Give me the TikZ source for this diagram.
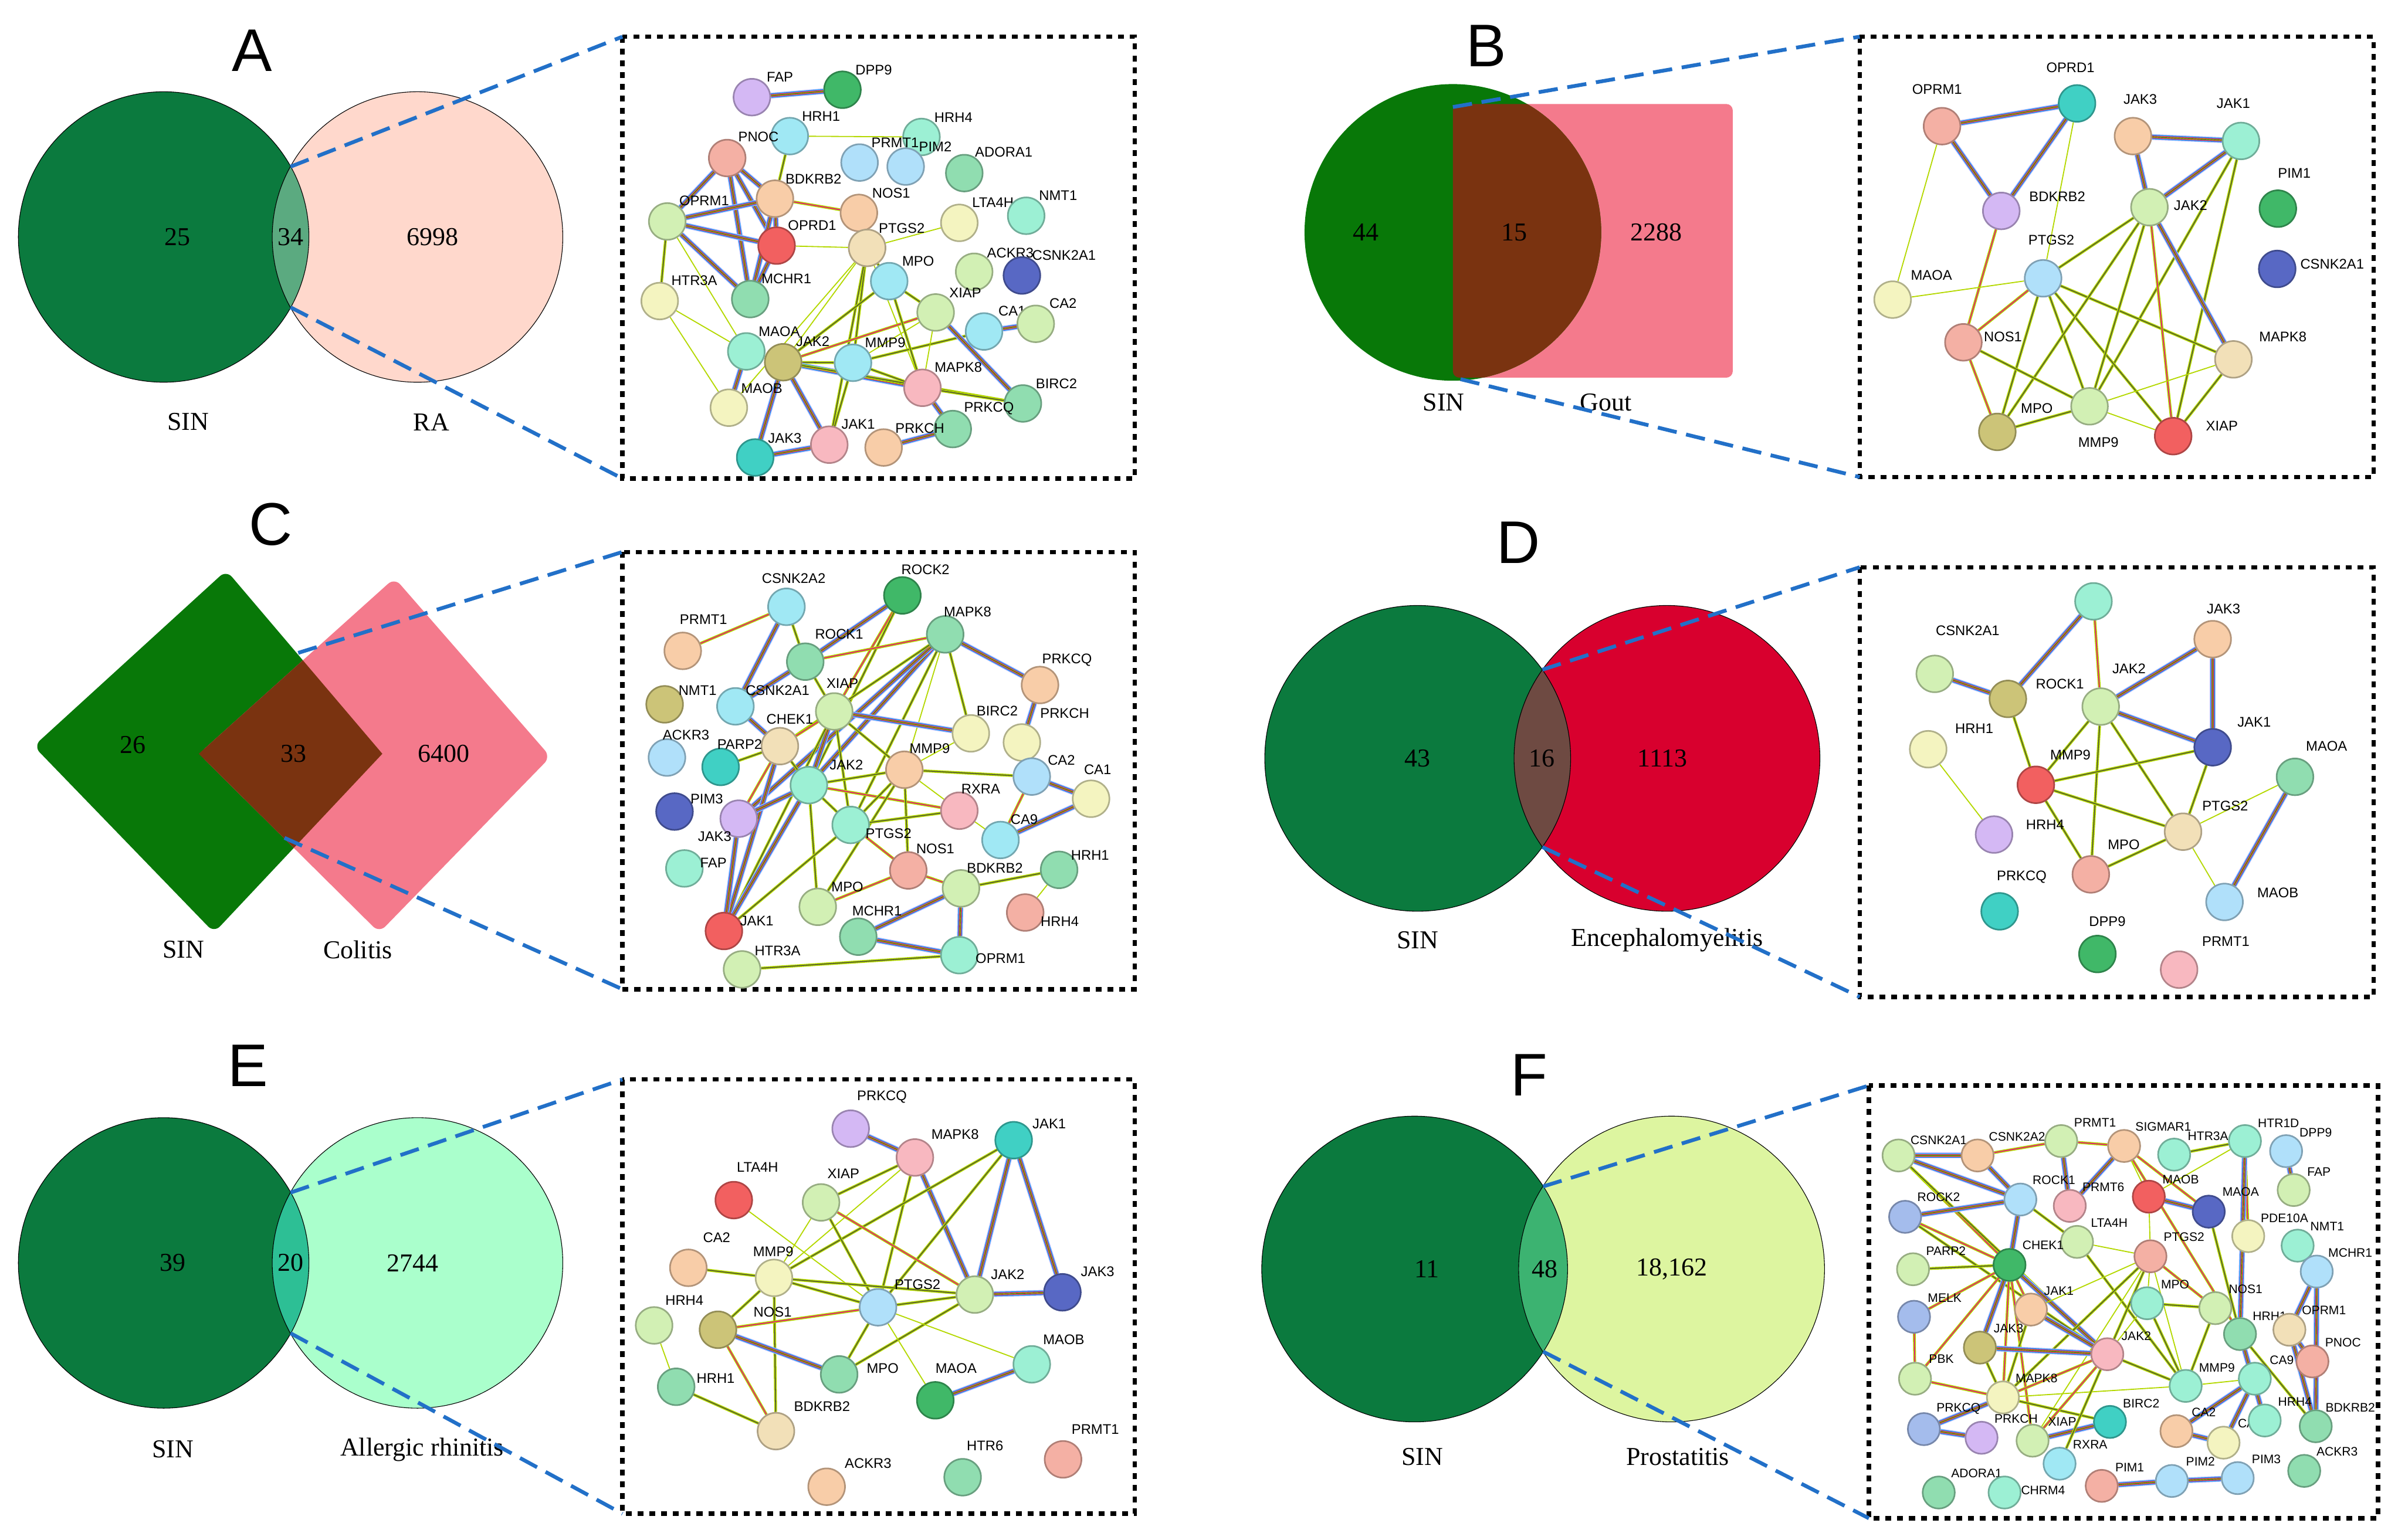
\documentclass[tikz,border=0pt]{standalone}
\usepackage{fontspec}
\setmainfont{Liberation Serif}
\newfontfamily\sfs{Liberation Sans}
\pgfdeclarelayer{bg}\pgfsetlayers{bg,main}
\definecolor{lg}{HTML}{B4D800}
\definecolor{dashblue}{HTML}{2270C8}
\definecolor{sal}{HTML}{F4B0A4}\definecolor{pch}{HTML}{F8CDA8}\definecolor{wht}{HTML}{F2E0B8}
\definecolor{pyl}{HTML}{F4F4C0}\definecolor{pgr}{HTML}{D2F0B4}\definecolor{grn}{HTML}{90DDB0}
\definecolor{dgr}{HTML}{40B868}\definecolor{mnt}{HTML}{9CF0D4}\definecolor{tel}{HTML}{40D0C4}
\definecolor{cyn}{HTML}{A0E8F4}\definecolor{lbl}{HTML}{B0E0FA}\definecolor{blu}{HTML}{A4BCEC}
\definecolor{dbl}{HTML}{5868C4}\definecolor{lav}{HTML}{D4B8F4}\definecolor{rd}{HTML}{F26060}
\definecolor{pnk}{HTML}{F8B8C0}\definecolor{olv}{HTML}{CCC478}
\definecolor{Agreen}{HTML}{0B7A3E}\definecolor{Apink}{HTML}{FFD8CC}\definecolor{Aint}{HTML}{5BAA80}
\definecolor{Bgreen}{HTML}{087808}\definecolor{Bpink}{HTML}{F47A8C}\definecolor{Bint}{HTML}{7A3310}
\definecolor{Dred}{HTML}{D8002E}\definecolor{Dint}{HTML}{6E4A42}
\definecolor{Emint}{HTML}{AAFFCC}\definecolor{Eint}{HTML}{2DBF95}
\definecolor{Fy}{HTML}{DDF5A0}\definecolor{Fint}{HTML}{3CB371}
\tikzset{
 pnode/.style={circle,minimum size=1.2cm,inner sep=0pt,line width=1.5pt},
 plab/.style={font=\sfs\fontsize{13}{15}\selectfont,inner sep=0pt},
 e/.style={draw=lg,line width=1pt},
 k/.style={preaction={draw=lg,line width=2.6pt},draw=black!75,line width=0.7pt},
 m/.style={preaction={draw=lg,line width=2.6pt},draw=magenta,line width=0.8pt},
 mb/.style={preaction={draw=blue!30,line width=5.4pt},preaction={draw=cyan,line width=4pt},
   preaction={draw=magenta,line width=2.7pt},preaction={draw=lg,line width=1.5pt},draw=black!80,line width=0.5pt},
 dbox/.style={draw=black,line width=4pt,dash pattern=on 5.5pt off 5.5pt},
 bcon/.style={draw=dashblue,line width=3.5pt,dash pattern=on 18pt off 9pt},
 vn/.style={font=\fontsize{24}{28}\selectfont,inner sep=0pt},
 pl/.style={font=\sfs\fontsize{56}{60}\selectfont,inner sep=0pt},
 vo/.style={draw=black,line width=0.6pt}
}
\newcommand\pn[7]{\node[pnode,fill=#4,draw=#4!72!black] (#1) at (#2,#3) {};\node[plab] (#1-l) at (#5,#6) {#7};}
\newcommand\ed[3]{\draw[#1] (#2) -- (#3);}
\begin{document}
\begin{tikzpicture}[x=0.05cm,y=-0.05cm]
\useasboundingbox (0,0) rectangle (1568,1007);
% ================= A =================
\node[pl] (LA) at (165,33) {A};
\fill[Agreen] (107,155) circle (95);
\fill[Apink] (273,155) circle (95);
\begin{scope}\clip (107,155) circle (95); \fill[Aint] (273,155) circle (95);\end{scope}
\draw[vo] (107,155) circle (95) (273,155) circle (95);
\node[vn] (a25) at (116,155) {25};\node[vn] (a34) at (190,155) {34};\node[vn] (a6998) at (283,155) {6998};
\node[vn] (aS) at (123,276) {SIN};\node[vn] (aR) at (282,276) {RA};
\coordinate (aT) at (190,109);\coordinate (aB) at (190,201);
\coordinate (aTL) at (407,24);\coordinate (aBR) at (742,313);\coordinate (aBL) at (407,313);
\draw[dbox] (aTL) rectangle (aBR);
\draw[bcon] (aT) -- (aTL);\draw[bcon] (aB) -- (aBL);
\begin{scope}[shift={(406.6,23)},xscale=0.2153,yscale=0.186]
\pn{aFAP}{395}{218}{lav}{480}{148}{FAP}
\pn{aDPP9}{670}{192}{dgr}{765}{122}{DPP9}
\pn{aHRH1}{510}{355}{cyn}{605}{285}{HRH1}
\pn{aHRH4}{910}{358}{mnt}{1007}{290}{HRH4}
\pn{aPNOC}{320}{432}{sal}{415}{358}{PNOC}
\pn{aPRMT1}{722}{448}{lbl}{830}{378}{PRMT1}
\pn{aPIM2}{862}{462}{lbl}{952}{392}{PIM2}
\pn{aADORA1}{1040}{485}{grn}{1160}{412}{ADORA1}
\pn{aBDKRB2}{465}{575}{pch}{582}{505}{BDKRB2}
\pn{aNOS1}{720}{625}{pch}{818}{555}{NOS1}
\pn{aLTA4H}{1025}{660}{pyl}{1127}{588}{LTA4H}
\pn{aNMT1}{1228}{635}{mnt}{1325}{563}{NMT1}
\pn{aOPRM1}{138}{655}{pgr}{250}{582}{OPRM1}
\pn{aOPRD1}{470}{740}{rd}{578}{668}{OPRD1}
\pn{aPTGS2}{745}{748}{wht}{850}{680}{PTGS2}
\pn{aMPO}{812}{865}{cyn}{900}{795}{MPO}
\pn{aACKR3}{1070}{832}{pgr}{1180}{765}{ACKR3}
\pn{aCSNK2A1}{1215}{845}{dbl}{1343}{773}{CSNK2A1}
\pn{aHTR3A}{115}{935}{pyl}{220}{862}{HTR3A}
\pn{aMCHR1}{390}{928}{grn}{500}{857}{MCHR1}
\pn{aXIAP}{953}{975}{pgr}{1043}{905}{XIAP}
\pn{aCA1}{1100}{1042}{cyn}{1185}{970}{CA1}
\pn{aCA2}{1257}{1015}{pgr}{1340}{943}{CA2}
\pn{aMAOA}{378}{1112}{mnt}{478}{1043}{MAOA}
\pn{aJAK2}{490}{1150}{olv}{580}{1078}{JAK2}
\pn{aMMP9}{702}{1152}{cyn}{800}{1082}{MMP9}
\pn{aMAPK8}{913}{1240}{pnk}{1022}{1168}{MAPK8}
\pn{aBIRC2}{1218}{1295}{grn}{1320}{1225}{BIRC2}
\pn{aMAOB}{325}{1310}{pyl}{425}{1243}{MAOB}
\pn{aPRKCQ}{1005}{1385}{grn}{1115}{1312}{PRKCQ}
\pn{aJAK1}{630}{1440}{pnk}{718}{1368}{JAK1}
\pn{aPRKCH}{795}{1450}{pch}{905}{1383}{PRKCH}
\pn{aJAK3}{405}{1485}{tel}{495}{1418}{JAK3}
\begin{pgfonlayer}{bg}
\ed{mb}{aFAP}{aDPP9}\ed{e}{aHRH1}{aHRH4}\ed{k}{aHRH1}{aBDKRB2}
\ed{mb}{aPNOC}{aBDKRB2}\ed{mb}{aPNOC}{aOPRM1}\ed{mb}{aPNOC}{aOPRD1}\ed{mb}{aPNOC}{aMCHR1}
\ed{mb}{aOPRM1}{aBDKRB2}\ed{mb}{aOPRM1}{aOPRD1}\ed{mb}{aOPRM1}{aMCHR1}\ed{k}{aOPRM1}{aHTR3A}\ed{e}{aOPRM1}{aMAOA}
\ed{mb}{aBDKRB2}{aOPRD1}\ed{mb}{aBDKRB2}{aMCHR1}\ed{m}{aBDKRB2}{aNOS1}\ed{mb}{aOPRD1}{aMCHR1}
\ed{e}{aOPRD1}{aPTGS2}\ed{e}{aPTGS2}{aLTA4H}\ed{k}{aPTGS2}{aMPO}\ed{k}{aPTGS2}{aMMP9}\ed{e}{aPTGS2}{aJAK2}
\ed{k}{aPTGS2}{aJAK1}\ed{e}{aPTGS2}{aMAOB}\ed{e}{aPTGS2}{aMAPK8}\ed{e}{aHTR3A}{aMAOA}\ed{e}{aHTR3A}{aMAOB}
\ed{mb}{aMAOA}{aMAOB}\ed{k}{aJAK2}{aMMP9}\ed{mb}{aJAK2}{aMAPK8}\ed{m}{aJAK2}{aXIAP}\ed{mb}{aJAK2}{aJAK1}
\ed{mb}{aJAK2}{aJAK3}\ed{k}{aJAK2}{aBIRC2}\ed{k}{aJAK2}{aMPO}\ed{k}{aMMP9}{aJAK1}\ed{k}{aMMP9}{aMAPK8}
\ed{k}{aMMP9}{aCA1}\ed{e}{aMMP9}{aXIAP}\ed{k}{aMPO}{aXIAP}\ed{k}{aMPO}{aMAPK8}\ed{e}{aXIAP}{aMAPK8}
\ed{mb}{aXIAP}{aBIRC2}\ed{mb}{aCA1}{aCA2}\ed{k}{aMAPK8}{aBIRC2}\ed{mb}{aMAPK8}{aPRKCQ}\ed{mb}{aPRKCQ}{aPRKCH}\ed{mb}{aJAK1}{aJAK3}
\end{pgfonlayer}
\end{scope}
% ================= B =================
\node[pl] (LB) at (972,30) {B};
\fill[Bpink,rounded corners=6] (950,68) rectangle (1133,247);
\fill[Bgreen] (950,152) circle (97);
\begin{scope}\clip[rounded corners=6] (950,68) rectangle (1133,247);\fill[Bint] (950,152) circle (97);\end{scope}
\node[vn] (b44) at (893,152) {44};\node[vn] (b15) at (990,152) {15};\node[vn] (b2288) at (1083,152) {2288};
\node[vn] (bS) at (944,263) {SIN};\node[vn] (bG) at (1050,263) {Gout};
\coordinate (bT) at (950,70);\coordinate (bB) at (955,248);
\coordinate (bTL) at (1216,24);\coordinate (bBR) at (1552,312);\coordinate (bBL) at (1216,312);
\draw[dbox] (bTL) rectangle (bBR);
\draw[bcon] (bT) -- (bTL);\draw[bcon] (bB) -- (bBL);
\begin{scope}[shift={(1216,23)},xscale=0.2153,yscale=0.186]
\pn{bOPRM1}{250}{320}{sal}{235}{190}{OPRM1}
\pn{bOPRD1}{660}{240}{tel}{640}{115}{OPRD1}
\pn{bJAK3}{830}{355}{pch}{852}{225}{JAK3}
\pn{bJAK1}{1158}{372}{mnt}{1135}{240}{JAK1}
\pn{bPIM1}{1270}{610}{dgr}{1320}{485}{PIM1}
\pn{bBDKRB2}{430}{618}{lav}{600}{568}{BDKRB2}
\pn{bJAK2}{880}{605}{pgr}{1005}{598}{JAK2}
\pn{bCSNK2A1}{1268}{822}{dbl}{1435}{805}{CSNK2A1}
\pn{bPTGS2}{557}{855}{lbl}{582}{720}{PTGS2}
\pn{bMAOA}{100}{930}{pyl}{218}{845}{MAOA}
\pn{bNOS1}{315}{1080}{sal}{435}{1060}{NOS1}
\pn{bMAPK8}{1135}{1140}{wht}{1285}{1060}{MAPK8}
\pn{bMPO}{418}{1395}{olv}{538}{1312}{MPO}
\pn{bMMP9}{698}{1305}{pgr}{725}{1432}{MMP9}
\pn{bXIAP}{952}{1410}{rd}{1100}{1375}{XIAP}
\begin{pgfonlayer}{bg}
\ed{mb}{bOPRM1}{bOPRD1}\ed{mb}{bOPRM1}{bBDKRB2}\ed{e}{bOPRM1}{bMAOA}\ed{mb}{bOPRD1}{bBDKRB2}\ed{e}{bOPRD1}{bPTGS2}
\ed{mb}{bJAK3}{bJAK1}\ed{mb}{bJAK3}{bJAK2}\ed{mb}{bJAK1}{bJAK2}\ed{k}{bJAK1}{bMMP9}\ed{k}{bJAK1}{bXIAP}
\ed{m}{bBDKRB2}{bNOS1}\ed{k}{bPTGS2}{bJAK2}\ed{e}{bPTGS2}{bMAOA}\ed{m}{bPTGS2}{bNOS1}\ed{k}{bPTGS2}{bMPO}
\ed{k}{bPTGS2}{bMMP9}\ed{k}{bPTGS2}{bXIAP}\ed{k}{bPTGS2}{bMAPK8}\ed{k}{bJAK2}{bMPO}\ed{k}{bJAK2}{bMMP9}
\ed{m}{bJAK2}{bXIAP}\ed{mb}{bJAK2}{bMAPK8}\ed{m}{bNOS1}{bMPO}\ed{k}{bNOS1}{bMMP9}\ed{k}{bMPO}{bMMP9}
\ed{e}{bMMP9}{bXIAP}\ed{e}{bMMP9}{bMAPK8}\ed{k}{bMAPK8}{bXIAP}
\end{pgfonlayer}
\end{scope}
% ================= C =================
\node[pl] (LC) at (177,343) {C};
\fill[Bgreen,rounded corners=8] (148,373) -- (250,493) -- (140,610) -- (22,488) -- cycle;
\fill[Bpink,rounded corners=8] (258,378) -- (360,495) -- (248,610) -- (130,493) -- cycle;
\begin{scope}\clip (148,373) -- (250,493) -- (140,610) -- (22,488) -- cycle;
\fill[Bint] (258,378) -- (360,495) -- (248,610) -- (130,493) -- cycle;\end{scope}
\node[vn] (c26) at (87,487) {26};\node[vn] (c33) at (192,493) {33};\node[vn] (c6400) at (290,493) {6400};
\node[vn] (cS) at (120,621) {SIN};\node[vn] (cC) at (234,621) {Colitis};
\coordinate (cT) at (195,427);\coordinate (cB) at (186,548);
\coordinate (cTL) at (407,361);\coordinate (cBR) at (742,647);\coordinate (cBL) at (407,647);
\draw[dbox] (cTL) rectangle (cBR);
\draw[bcon] (cT) -- (cTL);\draw[bcon] (cB) -- (cBL);
\begin{scope}[shift={(406.6,360.6)},xscale=0.2153,yscale=0.186]
\pn{cCSNK2A2}{500}{195}{cyn}{522}{95}{CSNK2A2}
\pn{cROCK2}{852}{155}{dgr}{922}{65}{ROCK2}
\pn{cPRMT1}{185}{350}{pch}{248}{240}{PRMT1}
\pn{cMAPK8}{982}{292}{grn}{1050}{212}{MAPK8}
\pn{cROCK1}{557}{388}{grn}{660}{292}{ROCK1}
\pn{cNMT1}{130}{538}{olv}{230}{490}{NMT1}
\pn{cCSNK2A1}{345}{545}{cyn}{473}{490}{CSNK2A1}
\pn{cXIAP}{645}{563}{pgr}{670}{465}{XIAP}
\pn{cPRKCQ}{1270}{470}{pch}{1352}{382}{PRKCQ}
\pn{cCHEK1}{480}{685}{wht}{510}{590}{CHEK1}
\pn{cBIRC2}{1060}{640}{pyl}{1140}{562}{BIRC2}
\pn{cPRKCH}{1215}{672}{pyl}{1345}{570}{PRKCH}
\pn{cACKR3}{137}{725}{lbl}{195}{646}{ACKR3}
\pn{cPARP2}{300}{758}{tel}{358}{678}{PARP2}
\pn{cMMP9}{858}{768}{pch}{935}{693}{MMP9}
\pn{cJAK2}{568}{822}{mnt}{682}{750}{JAK2}
\pn{cCA2}{1245}{792}{lbl}{1335}{735}{CA2}
\pn{cCA1}{1425}{870}{pyl}{1445}{768}{CA1}
\pn{cPIM3}{160}{915}{dbl}{258}{870}{PIM3}
\pn{cJAK3}{355}{940}{lav}{282}{1003}{JAK3}
\pn{cRXRA}{1025}{912}{pnk}{1090}{836}{RXRA}
\pn{cPTGS2}{695}{962}{mnt}{810}{993}{PTGS2}
\pn{cCA9}{1150}{1015}{cyn}{1222}{943}{CA9}
\pn{cFAP}{190}{1115}{mnt}{278}{1095}{FAP}
\pn{cNOS1}{870}{1122}{sal}{952}{1045}{NOS1}
\pn{cHRH1}{1328}{1120}{grn}{1422}{1068}{HRH1}
\pn{cBDKRB2}{1030}{1185}{pgr}{1133}{1113}{BDKRB2}
\pn{cMPO}{595}{1250}{pgr}{685}{1180}{MPO}
\pn{cJAK1}{310}{1335}{rd}{410}{1300}{JAK1}
\pn{cMCHR1}{718}{1355}{grn}{775}{1265}{MCHR1}
\pn{cHRH4}{1225}{1270}{sal}{1330}{1302}{HRH4}
\pn{cOPRM1}{1025}{1420}{mnt}{1150}{1432}{OPRM1}
\pn{cHTR3A}{365}{1470}{pgr}{473}{1405}{HTR3A}
\begin{pgfonlayer}{bg}
\ed{m}{cPRMT1}{cCSNK2A2}\ed{k}{cCSNK2A2}{cROCK1}\ed{mb}{cCSNK2A2}{cCSNK2A1}\ed{mb}{cROCK2}{cROCK1}
\ed{m}{cROCK2}{cXIAP}\ed{k}{cROCK2}{cJAK2}\ed{m}{cROCK1}{cMAPK8}\ed{mb}{cROCK1}{cCSNK2A1}\ed{k}{cROCK1}{cXIAP}
\ed{mb}{cCSNK2A1}{cCHEK1}\ed{mb}{cMAPK8}{cPRKCQ}\ed{k}{cMAPK8}{cBIRC2}\ed{mb}{cMAPK8}{cJAK2}\ed{k}{cMAPK8}{cPTGS2}
\ed{e}{cMAPK8}{cMMP9}\ed{mb}{cMAPK8}{cJAK3}\ed{k}{cMAPK8}{cCHEK1}\ed{mb}{cXIAP}{cBIRC2}\ed{m}{cXIAP}{cCHEK1}
\ed{mb}{cXIAP}{cJAK2}\ed{k}{cXIAP}{cPTGS2}\ed{k}{cXIAP}{cMMP9}\ed{k}{cXIAP}{cJAK1}\ed{mb}{cPRKCQ}{cPRKCH}
\ed{k}{cCHEK1}{cPARP2}\ed{mb}{cCHEK1}{cJAK1}\ed{k}{cCHEK1}{cJAK2}\ed{m}{cCHEK1}{cJAK3}\ed{mb}{cJAK2}{cJAK3}
\ed{mb}{cJAK2}{cJAK1}\ed{k}{cJAK2}{cMMP9}\ed{m}{cJAK2}{cRXRA}\ed{k}{cJAK2}{cPTGS2}\ed{k}{cJAK2}{cMPO}
\ed{k}{cMMP9}{cCA2}\ed{e}{cMMP9}{cRXRA}\ed{k}{cMMP9}{cNOS1}\ed{k}{cMMP9}{cPTGS2}\ed{e}{cMMP9}{cBIRC2}\ed{k}{cMMP9}{cMPO}
\ed{k}{cPTGS2}{cRXRA}\ed{m}{cPTGS2}{cNOS1}\ed{k}{cPTGS2}{cJAK1}\ed{e}{cRXRA}{cCA9}\ed{mb}{cCA2}{cCA1}\ed{m}{cCA2}{cCA9}
\ed{mb}{cCA9}{cCA1}\ed{m}{cNOS1}{cMPO}\ed{m}{cNOS1}{cBDKRB2}\ed{k}{cBDKRB2}{cHRH1}\ed{mb}{cBDKRB2}{cMCHR1}
\ed{mb}{cBDKRB2}{cOPRM1}\ed{e}{cHRH1}{cHRH4}\ed{mb}{cMCHR1}{cOPRM1}\ed{k}{cHTR3A}{cOPRM1}\ed{mb}{cJAK1}{cJAK3}
\end{pgfonlayer}
\end{scope}
% ================= D =================
\node[pl] (LD) at (993,355) {D};
\fill[Agreen] (927,496) circle (100);
\fill[Dred] (1090,496) circle (100);
\begin{scope}\clip (927,496) circle (100);\fill[Dint] (1090,496) circle (100);\end{scope}
\draw[vo] (927,496) circle (100) (1090,496) circle (100);
\node[vn] (d43) at (927,496) {43};\node[vn] (d16) at (1008,496) {16};\node[vn] (d1113) at (1087,496) {1113};
\node[vn] (dS) at (927,615) {SIN};\node[vn] (dE) at (1090,615) {Encephalomyelitis};
\coordinate (dT) at (1008.5,438);\coordinate (dB) at (1008.5,554);
\coordinate (dTL) at (1216,371);\coordinate (dBR) at (1552,652);\coordinate (dBL) at (1216,652);
\draw[dbox] (dTL) rectangle (dBR);
\draw[bcon] (dT) -- (dTL);\draw[bcon] (dB) -- (dBL);
\begin{scope}[shift={(1216,368.2)},xscale=0.2153,yscale=0.186]
\pn{dROCK2}{710}{135}{mnt}{805}{15}{}
\pn{dJAK3}{1072}{268}{pch}{1105}{162}{JAK3}
\pn{dCSNK2A1}{228}{390}{pgr}{328}{238}{CSNK2A1}
\pn{dROCK1}{450}{478}{olv}{608}{425}{ROCK1}
\pn{dJAK2}{732}{505}{pgr}{818}{372}{JAK2}
\pn{dHRH1}{208}{655}{pyl}{348}{582}{HRH1}
\pn{dJAK1}{1072}{648}{dbl}{1198}{560}{JAK1}
\pn{dMAOA}{1322}{752}{grn}{1418}{645}{MAOA}
\pn{dMMP9}{535}{780}{rd}{640}{675}{MMP9}
\pn{dHRH4}{408}{955}{lav}{563}{920}{HRH4}
\pn{dPTGS2}{982}{945}{wht}{1110}{855}{PTGS2}
\pn{dMPO}{702}{1095}{sal}{802}{990}{MPO}
\pn{dMAOB}{1108}{1192}{lbl}{1270}{1160}{MAOB}
\pn{dPRKCQ}{425}{1225}{tel}{492}{1105}{PRKCQ}
\pn{dDPP9}{722}{1375}{dgr}{752}{1260}{DPP9}
\pn{dPRMT1}{970}{1430}{pnk}{1112}{1330}{PRMT1}
\begin{pgfonlayer}{bg}
\ed{mb}{dROCK2}{dROCK1}\ed{m}{dROCK2}{dJAK2}\ed{mb}{dCSNK2A1}{dROCK1}\ed{k}{dROCK1}{dMMP9}
\ed{mb}{dJAK2}{dJAK3}\ed{mb}{dJAK2}{dJAK1}\ed{k}{dJAK2}{dMMP9}\ed{k}{dJAK2}{dMPO}\ed{k}{dJAK2}{dPTGS2}
\ed{mb}{dJAK3}{dJAK1}\ed{k}{dJAK1}{dMMP9}\ed{k}{dJAK1}{dPTGS2}\ed{e}{dHRH1}{dHRH4}\ed{k}{dMMP9}{dPTGS2}
\ed{k}{dMMP9}{dMPO}\ed{k}{dMPO}{dPTGS2}\ed{e}{dPTGS2}{dMAOA}\ed{e}{dPTGS2}{dMAOB}\ed{mb}{dMAOA}{dMAOB}
\end{pgfonlayer}
\end{scope}
% ================= E =================
\node[pl] (LE) at (162,697) {E};
\fill[Agreen] (107,826) circle (95);
\fill[Emint] (273,826) circle (95);
\begin{scope}\clip (107,826) circle (95);\fill[Eint] (273,826) circle (95);\end{scope}
\draw[vo] (107,826) circle (95) (273,826) circle (95);
\node[vn] (e39) at (113,826) {39};\node[vn] (e20) at (190,826) {20};\node[vn] (e2744) at (270,826) {2744};
\node[vn] (eS) at (113,948) {SIN};\node[vn] (eA) at (276,948) {Allergic rhinitis};
\coordinate (eT) at (190,780);\coordinate (eB) at (190,872);
\coordinate (eTL) at (407,706);\coordinate (eBR) at (742,990);\coordinate (eBL) at (407,990);
\draw[dbox] (eTL) rectangle (eBR);
\draw[bcon] (eT) -- (eTL);\draw[bcon] (eB) -- (eBL);
\begin{scope}[shift={(406.6,705.8)},xscale=0.2153,yscale=0.1884]
\pn{ePRKCQ}{695}{172}{lav}{790}{62}{PRKCQ}
\pn{eJAK1}{1190}{212}{tel}{1298}{155}{JAK1}
\pn{eMAPK8}{890}{272}{pnk}{1012}{192}{MAPK8}
\pn{eLTA4H}{340}{420}{rd}{412}{305}{LTA4H}
\pn{eXIAP}{605}{428}{pgr}{673}{328}{XIAP}
\pn{eCA2}{202}{655}{pch}{288}{550}{CA2}
\pn{eMMP9}{462}{690}{pyl}{460}{598}{MMP9}
\pn{eJAK2}{1072}{748}{pgr}{1172}{678}{JAK2}
\pn{eJAK3}{1338}{740}{dbl}{1445}{668}{JAK3}
\pn{ePTGS2}{778}{792}{lbl}{898}{712}{PTGS2}
\pn{eHRH4}{98}{855}{pgr}{190}{767}{HRH4}
\pn{eNOS1}{292}{870}{olv}{458}{808}{NOS1}
\pn{eMAOB}{1245}{990}{mnt}{1342}{905}{MAOB}
\pn{eMPO}{660}{1025}{grn}{792}{1003}{MPO}
\pn{eMAOA}{952}{1115}{dgr}{1015}{1003}{MAOA}
\pn{eHRH1}{165}{1068}{grn}{285}{1038}{HRH1}
\pn{eBDKRB2}{468}{1222}{wht}{608}{1137}{BDKRB2}
\pn{ePRMT1}{1340}{1320}{sal}{1438}{1215}{PRMT1}
\pn{eHTR6}{1035}{1382}{grn}{1103}{1273}{HTR6}
\pn{eACKR3}{622}{1415}{pch}{748}{1333}{ACKR3}
\begin{pgfonlayer}{bg}
\ed{mb}{ePRKCQ}{eMAPK8}\ed{k}{eMAPK8}{eXIAP}\ed{e}{eMAPK8}{eMMP9}\ed{k}{eMAPK8}{ePTGS2}\ed{mb}{eMAPK8}{eJAK2}
\ed{mb}{eJAK1}{eJAK2}\ed{mb}{eJAK1}{eJAK3}\ed{k}{eJAK1}{eMMP9}\ed{k}{eJAK1}{ePTGS2}\ed{e}{eLTA4H}{ePTGS2}
\ed{e}{eXIAP}{eMMP9}\ed{m}{eXIAP}{eJAK2}\ed{k}{eXIAP}{ePTGS2}\ed{k}{eCA2}{eMMP9}\ed{k}{eMMP9}{ePTGS2}
\ed{k}{eMMP9}{eJAK2}\ed{k}{eMMP9}{eNOS1}\ed{k}{eMMP9}{eBDKRB2}\ed{mb}{eJAK2}{eJAK3}\ed{k}{eJAK2}{ePTGS2}
\ed{k}{eJAK2}{eMPO}\ed{m}{ePTGS2}{eNOS1}\ed{k}{ePTGS2}{eMPO}\ed{e}{ePTGS2}{eMAOA}\ed{e}{ePTGS2}{eMAOB}
\ed{mb}{eNOS1}{eMPO}\ed{m}{eNOS1}{eBDKRB2}\ed{e}{eHRH4}{eHRH1}\ed{k}{eHRH1}{eBDKRB2}\ed{mb}{eMAOA}{eMAOB}
\end{pgfonlayer}
\end{scope}
% ================= F =================
\node[pl] (LF) at (1000,703) {F};
\fill[Agreen] (925,830) circle (100);
\fill[Fy] (1093,830) circle (100);
\begin{scope}\clip (925,830) circle (100);\fill[Fint] (1093,830) circle (100);\end{scope}
\draw[vo] (925,830) circle (100) (1093,830) circle (100);
\node[vn] (f11) at (933,830) {11};\node[vn] (f48) at (1010,830) {48};\node[vn] (f18162) at (1093,830) {18,162};
\node[vn] (fS) at (930,953) {SIN};\node[vn] (fP) at (1097,953) {Prostatitis};
\coordinate (fT) at (1009,776);\coordinate (fB) at (1009,884);
\coordinate (fTL) at (1222,710);\coordinate (fBR) at (1555,993);\coordinate (fBL) at (1222,993);
\draw[dbox] (fTL) rectangle (fBR);
\draw[bcon] (fT) -- (fTL);\draw[bcon] (fB) -- (fBL);
\begin{scope}[shift={(1216,705.8)},xscale=0.2153,yscale=0.1884,pnode/.append style={minimum size=1.05cm},plab/.append style={font=\sfs\fontsize{11.5}{13}\selectfont}]
\pn{fCSNK2A1}{118}{265}{pgr}{240}{212}{CSNK2A1}
\pn{fCSNK2A2}{358}{265}{pch}{478}{200}{CSNK2A2}
\pn{fPRMT1}{612}{215}{pgr}{715}{150}{PRMT1}
\pn{fSIGMAR1}{803}{232}{pch}{922}{165}{SIGMAR1}
\pn{fHTR3A}{955}{262}{mnt}{1058}{198}{HTR3A}
\pn{fHTR1D}{1170}{215}{mnt}{1272}{152}{HTR1D}
\pn{fDPP9}{1295}{250}{lbl}{1385}{185}{DPP9}
\pn{fROCK2}{138}{478}{blu}{240}{410}{ROCK2}
\pn{fROCK1}{488}{418}{lbl}{590}{350}{ROCK1}
\pn{fPRMT6}{638}{440}{pnk}{740}{375}{PRMT6}
\pn{fMAOB}{878}{408}{rd}{975}{348}{MAOB}
\pn{fMAOA}{1060}{460}{dbl}{1157}{392}{MAOA}
\pn{fFAP}{1318}{385}{pgr}{1395}{322}{FAP}
\pn{fLTA4H}{660}{565}{pgr}{758}{498}{LTA4H}
\pn{fPDE10A}{1180}{545}{pyl}{1290}{482}{PDE10A}
\pn{fNMT1}{1330}{578}{mnt}{1420}{512}{NMT1}
\pn{fPARP2}{162}{660}{pgr}{262}{597}{PARP2}
\pn{fCHEK1}{455}{645}{dgr}{557}{577}{CHEK1}
\pn{fPTGS2}{883}{615}{sal}{985}{548}{PTGS2}
\pn{fMCHR1}{1388}{668}{lbl}{1490}{602}{MCHR1}
\pn{fMELK}{165}{825}{blu}{258}{760}{MELK}
\pn{fJAK1}{520}{800}{pch}{605}{735}{JAK1}
\pn{fMPO}{873}{778}{mnt}{958}{712}{MPO}
\pn{fNOS1}{1080}{795}{pgr}{1172}{730}{NOS1}
\pn{fHRH1}{1155}{885}{grn}{1245}{822}{HRH1}
\pn{fOPRM1}{1305}{870}{wht}{1410}{802}{OPRM1}
\pn{fPNOC}{1375}{980}{sal}{1468}{915}{PNOC}
\pn{fJAK3}{365}{932}{olv}{452}{865}{JAK3}
\pn{fJAK2}{752}{955}{pnk}{840}{892}{JAK2}
\pn{fPBK}{168}{1040}{pgr}{248}{972}{PBK}
\pn{fMAPK8}{435}{1105}{pyl}{537}{1038}{MAPK8}
\pn{fMMP9}{990}{1065}{mnt}{1085}{1002}{MMP9}
\pn{fCA9}{1200}{1040}{mnt}{1282}{975}{CA9}
\pn{fPRKCQ}{195}{1215}{blu}{300}{1145}{PRKCQ}
\pn{fPRKCH}{370}{1245}{lav}{475}{1178}{PRKCH}
\pn{fXIAP}{525}{1255}{pgr}{615}{1190}{XIAP}
\pn{fBIRC2}{760}{1190}{tel}{855}{1127}{BIRC2}
\pn{fCA2}{962}{1222}{pch}{1045}{1157}{CA2}
\pn{fCA1}{1105}{1262}{pyl}{1185}{1195}{CA1}
\pn{fHRH4}{1230}{1185}{mnt}{1322}{1120}{HRH4}
\pn{fBDKRB2}{1385}{1205}{grn}{1490}{1140}{BDKRB2}
\pn{fRXRA}{607}{1335}{cyn}{700}{1268}{RXRA}
\pn{fACKR3}{1350}{1360}{grn}{1450}{1292}{ACKR3}
\pn{fADORA1}{240}{1435}{grn}{355}{1368}{ADORA1}
\pn{fCHRM4}{440}{1435}{mnt}{557}{1428}{CHRM4}
\pn{fPIM1}{735}{1412}{sal}{820}{1348}{PIM1}
\pn{fPIM2}{948}{1395}{lbl}{1035}{1328}{PIM2}
\pn{fPIM3}{1148}{1385}{lbl}{1235}{1320}{PIM3}
\begin{pgfonlayer}{bg}
\ed{mb}{fCSNK2A1}{fCSNK2A2}\ed{mb}{fCSNK2A1}{fROCK1}\ed{m}{fCSNK2A1}{fCHEK1}\ed{k}{fCSNK2A1}{fJAK2}
\ed{m}{fCSNK2A2}{fPRMT1}\ed{mb}{fCSNK2A2}{fROCK1}\ed{m}{fPRMT1}{fSIGMAR1}\ed{mb}{fPRMT1}{fPRMT6}\ed{mb}{fSIGMAR1}{fPRMT6}
\ed{e}{fSIGMAR1}{fMAOB}\ed{m}{fSIGMAR1}{fMAOA}\ed{m}{fSIGMAR1}{fHRH1}\ed{k}{fHTR3A}{fHTR1D}\ed{e}{fHTR1D}{fMAOB}
\ed{m}{fHTR1D}{fPDE10A}\ed{mb}{fHTR1D}{fHRH1}\ed{mb}{fDPP9}{fFAP}\ed{mb}{fROCK2}{fROCK1}\ed{m}{fROCK2}{fCHEK1}
\ed{k}{fROCK2}{fJAK2}\ed{mb}{fROCK1}{fCHEK1}\ed{k}{fROCK1}{fLTA4H}\ed{mb}{fMAOB}{fMAOA}\ed{e}{fMAOB}{fPTGS2}
\ed{k}{fMAOA}{fHRH1}\ed{k}{fPARP2}{fCHEK1}\ed{e}{fLTA4H}{fPTGS2}\ed{k}{fLTA4H}{fMMP9}\ed{m}{fCHEK1}{fMELK}
\ed{m}{fCHEK1}{fJAK1}\ed{mb}{fCHEK1}{fJAK3}\ed{mb}{fCHEK1}{fJAK2}\ed{m}{fCHEK1}{fMAPK8}\ed{m}{fCHEK1}{fXIAP}
\ed{m}{fCHEK1}{fPBK}\ed{m}{fMELK}{fPBK}\ed{e}{fPTGS2}{fMPO}\ed{m}{fPTGS2}{fNOS1}\ed{e}{fPTGS2}{fJAK1}
\ed{k}{fPTGS2}{fJAK2}\ed{e}{fPTGS2}{fMMP9}\ed{k}{fPTGS2}{fMAPK8}\ed{e}{fPTGS2}{fXIAP}\ed{k}{fMPO}{fNOS1}
\ed{k}{fMPO}{fMMP9}\ed{e}{fMPO}{fJAK2}\ed{k}{fNOS1}{fMMP9}\ed{mb}{fJAK1}{fJAK2}\ed{k}{fJAK1}{fMAPK8}
\ed{mb}{fJAK3}{fJAK2}\ed{k}{fJAK3}{fMAPK8}\ed{m}{fPBK}{fMAPK8}\ed{m}{fMAPK8}{fJAK2}\ed{mb}{fMAPK8}{fPRKCQ}
\ed{k}{fMAPK8}{fBIRC2}\ed{e}{fMAPK8}{fMMP9}\ed{mb}{fPRKCQ}{fPRKCH}\ed{mb}{fXIAP}{fBIRC2}\ed{m}{fXIAP}{fJAK2}
\ed{k}{fRXRA}{fJAK2}\ed{k}{fJAK2}{fMMP9}\ed{e}{fMMP9}{fCA9}\ed{mb}{fCA9}{fCA2}\ed{mb}{fCA9}{fCA1}
\ed{k}{fHRH1}{fBDKRB2}\ed{mb}{fHRH1}{fHRH4}\ed{mb}{fOPRM1}{fMCHR1}\ed{mb}{fOPRM1}{fBDKRB2}\ed{mb}{fMCHR1}{fBDKRB2}
\ed{mb}{fPNOC}{fOPRM1}\ed{mb}{fCA2}{fCA1}\ed{mb}{fPIM1}{fPIM2}\ed{mb}{fPIM2}{fPIM3}
\end{pgfonlayer}
\end{scope}
\end{tikzpicture}
\end{document}
